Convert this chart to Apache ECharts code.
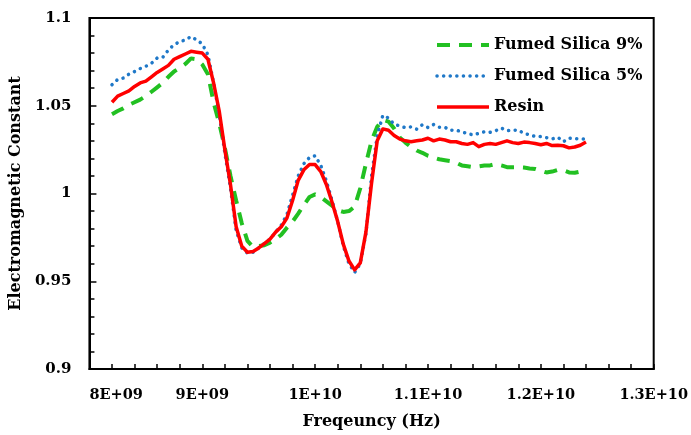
<!DOCTYPE html>
<html>
<head>
<meta charset="utf-8">
<script src="https://cdn.jsdelivr.net/npm/echarts@6/dist/echarts.min.js"></script>
<style>
html,body{margin:0;padding:0;background:#fff;}
#chart{width:691px;height:435px;}
</style>
</head>
<body>
<div id="chart"></div>
<script>
// Frequency in GHz
var freqGHz = [8.20,8.25,8.30,8.35,8.40,8.45,8.50,8.55,8.60,8.65,8.70,8.75,8.80,8.85,8.90,8.95,
  9.00,9.05,9.10,9.15,9.20,9.25,9.30,9.35,9.40,9.45,9.50,9.55,9.60,9.65,9.70,9.75,9.80,9.85,9.90,9.95,
  10.00,10.05,10.10,10.15,10.20,10.25,10.30,10.35,10.40,10.45,10.50,10.55,10.60,10.65,10.70,10.75,10.80,10.85,10.90,10.95,
  11.00,11.05,11.10,11.15,11.20,11.25,11.30,11.35,11.40,11.45,11.50,11.55,11.60,11.65,11.70,11.75,11.80,11.85,11.90,11.95,
  12.00,12.05,12.10,12.15,12.20,12.25,12.30,12.35,12.40];

var fumedSilica9 = [1.0452,1.047,1.0485,1.0505,1.052,1.0535,1.0555,1.058,1.0605,1.063,1.0665,1.0695,1.0715,1.0738,1.077,1.0765,
  1.0735,1.068,1.052,1.040,1.026,1.010,0.996,0.983,0.973,0.9695,0.970,0.9705,0.972,0.974,0.9765,0.9805,0.984,0.9885,0.9935,0.998,
  0.9995,0.998,0.9955,0.993,0.9905,0.9895,0.9900,0.9925,1.003,1.017,1.030,1.038,1.042,1.041,1.037,1.032,1.029,1.0265,1.0245,1.0232,
  1.0215,1.0205,1.0195,1.019,1.0185,1.0175,1.016,1.0155,1.015,1.0155,1.016,1.016,1.0168,1.016,1.015,1.015,1.015,1.0148,1.0143,1.014,
  1.013,1.012,1.0125,1.0135,1.0132,1.012,1.0118,1.0125,1.014];

var fumedSilica5 = [1.062,1.065,1.0658,1.068,1.0695,1.0712,1.0725,1.0742,1.0772,1.0776,1.0818,1.0848,1.0865,1.0875,1.0894,1.0875,
  1.0852,1.079,1.063,1.045,1.023,1.003,0.979,0.969,0.966,0.9665,0.969,0.9715,0.974,0.978,0.982,0.988,0.999,1.010,1.017,1.0205,
  1.0215,1.016,1.007,0.996,0.984,0.970,0.960,0.955,0.960,0.977,1.010,1.033,1.0445,1.043,1.0395,1.0385,1.0375,1.038,1.0367,1.0392,
  1.0376,1.0393,1.0377,1.0377,1.036,1.0362,1.035,1.0343,1.0333,1.0343,1.0352,1.0349,1.0358,1.0373,1.0358,1.036,1.0362,1.0342,1.0335,1.0325,
  1.0324,1.0318,1.0311,1.032,1.0295,1.0316,1.0312,1.0311,1.031];

var resin = [1.052,1.0555,1.057,1.0585,1.061,1.063,1.064,1.0665,1.069,1.071,1.073,1.0765,1.078,1.0795,1.081,1.0805,
  1.080,1.0765,1.063,1.047,1.025,1.005,0.981,0.970,0.9665,0.967,0.969,0.9715,0.974,0.978,0.981,0.986,0.996,1.0075,1.0135,1.0165,
  1.0165,1.0125,1.005,0.995,0.984,0.971,0.9615,0.9565,0.9605,0.978,1.006,1.030,1.0368,1.036,1.033,1.031,1.030,1.0295,1.030,1.0305,
  1.0315,1.030,1.031,1.0305,1.0295,1.0295,1.0285,1.028,1.029,1.0267,1.028,1.0285,1.028,1.029,1.030,1.029,1.0285,1.0293,1.029,1.0285,
  1.0278,1.0285,1.0273,1.0275,1.0272,1.026,1.0265,1.0275,1.0293];

var seriesNames = ['Fumed Silica 9%','Fumed Silica 5%','Resin'];
var xTickLabels = ['8E+09','9E+09','1E+10','1.1E+10','1.2E+10','1.3E+10'];

function pairs(vals){
  return freqGHz.map(function(f,i){ return [Math.round(f*1000)*1e6, vals[i]]; });
}

var FONT = 'DejaVu Serif';
var GREEN = '#22c022', BLUE = '#1f78c8', RED = '#ff0000';
var greenLine = {color:GREEN,width:4,type:[13,9]};
var blueLine = {color:BLUE,width:3.5,type:[0.1,6.5],cap:'round'};
var redLine = {color:RED,width:3.5,join:'round'};

var chart = echarts.init(document.getElementById('chart'), null, {renderer:'canvas'});
chart.setOption({
  animation:false,
  backgroundColor:'#ffffff',
  grid:{left:89,right:37,top:18,bottom:63,show:true,borderColor:'#000',borderWidth:2,backgroundColor:'transparent'},
  legend:{
    data:[
      {name:seriesNames[0],lineStyle:greenLine},
      {name:seriesNames[1],lineStyle:blueLine},
      {name:seriesNames[2],lineStyle:redLine}
    ],
    orient:'vertical',
    left:430, top:32,
    itemWidth:52, itemHeight:12, itemGap:15,
    itemStyle:{opacity:0},
    textStyle:{fontFamily:FONT,fontWeight:'bold',fontSize:16,color:'#000'}
  },
  xAxis:{
    type:'value', min:8e9, max:1.3e10, interval:1e9,
    name:'Freqeuncy (Hz)', nameLocation:'middle', nameGap:45,
    nameTextStyle:{fontFamily:FONT,fontWeight:'bold',fontSize:16,color:'#000'},
    axisLine:{show:true,lineStyle:{color:'#000',width:2}},
    axisTick:{show:true,inside:true,length:5,lineStyle:{color:'#000',width:1.5}},
    minorTick:{show:true,splitNumber:5,length:5,lineStyle:{color:'#000',width:1.5}},
    splitLine:{show:false},
    axisLabel:{margin:19,fontFamily:FONT,fontWeight:'bold',fontSize:14.5,color:'#000',alignMinLabel:'left',
      formatter:function(v){ var i=Math.round((v-8e9)/1e9); return xTickLabels[i]||''; }}
  },
  yAxis:{
    type:'value', min:0.9, max:1.1, interval:0.05,
    name:'Electromagnetic Constant', nameLocation:'middle', nameGap:62,
    nameTextStyle:{fontFamily:FONT,fontWeight:'bold',fontSize:16,color:'#000'},
    axisLine:{show:true,lineStyle:{color:'#000',width:2}},
    axisTick:{show:true,inside:true,length:7,lineStyle:{color:'#000',width:1.5}},
    minorTick:{show:true,splitNumber:5,length:5,lineStyle:{color:'#000',width:1.5}},
    splitLine:{show:false},
    axisLabel:{margin:18,fontFamily:FONT,fontWeight:'bold',fontSize:15,color:'#000'}
  },
  series:[
    {name:seriesNames[0],type:'line',data:pairs(fumedSilica9),showSymbol:false,symbol:'none',
      itemStyle:{color:GREEN}, lineStyle:greenLine},
    {name:seriesNames[1],type:'line',data:pairs(fumedSilica5),showSymbol:false,symbol:'none',
      itemStyle:{color:BLUE}, lineStyle:blueLine},
    {name:seriesNames[2],type:'line',data:pairs(resin),showSymbol:false,symbol:'none',
      itemStyle:{color:RED}, lineStyle:redLine}
  ]
});
</script>
</body>
</html>
